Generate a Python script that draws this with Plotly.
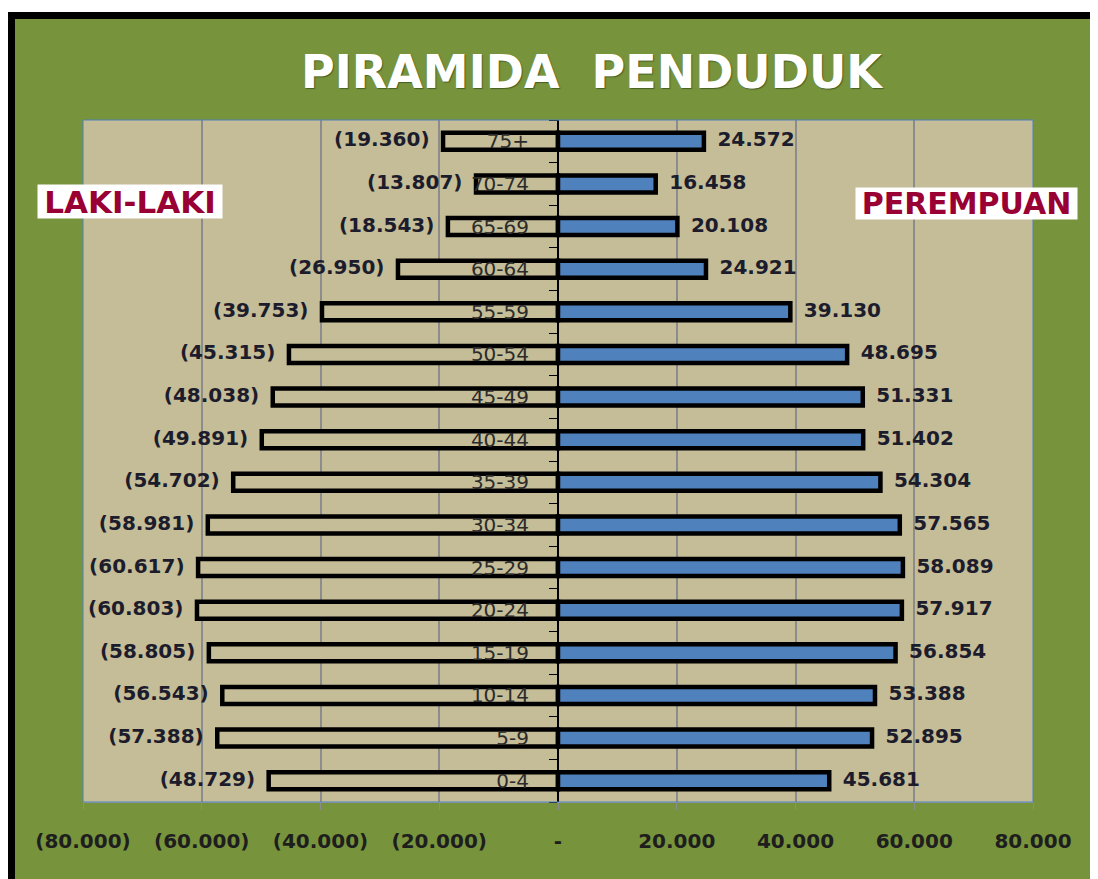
import plotly.graph_objects as go

# Data
kelompok_umur = ["0-4", "5-9", "10-14", "15-19", "20-24", "25-29", "30-34", "35-39",
                 "40-44", "45-49", "50-54", "55-59", "60-64", "65-69", "70-74", "75+"]
laki_laki = [48729, 57388, 56543, 58805, 60803, 60617, 58981, 54702,
             49891, 48038, 45315, 39753, 26950, 18543, 13807, 19360]
perempuan = [45681, 52895, 53388, 56854, 57917, 58089, 57565, 54304,
             51402, 51331, 48695, 39130, 24921, 20108, 16458, 24572]
tick_vals = [-80000, -60000, -40000, -20000, 0, 20000, 40000, 60000, 80000]
tick_text = ["(80.000)", "(60.000)", "(40.000)", "(20.000)", "-",
             "20.000", "40.000", "60.000", "80.000"]


def fmt(v):
    return f"{v:,}".replace(",", ".")


GREEN = "#77933C"
TAN = "#C4BD97"
BLUE = "#4F81BD"
MAROON = "#990033"
FONT = "DejaVu Sans"

# page has an 8px body margin, so the figure is a bit smaller than the window
W, H = 1090, 871
L, R, T, B = 75, 65, 112, 77
pw, ph = W - L - R, H - T - B


# helpers: screen coords of the reference -> paper coords
def px(X):
    return (X - 83) / pw


def py(Y):
    return (802 - Y) / ph


lbl_font = dict(family=FONT, size=20, color="#1c1c2c", weight="bold")

fig = go.Figure()

fig.add_trace(go.Bar(
    y=kelompok_umur, x=[-v for v in laki_laki], orientation="h",
    marker=dict(color=TAN, line=dict(color="black", width=4.5)),
    width=0.4, showlegend=False, hoverinfo="skip",
))
fig.add_trace(go.Bar(
    y=kelompok_umur, x=perempuan, orientation="h",
    marker=dict(color=BLUE, line=dict(color="black", width=4.5)),
    width=0.4, showlegend=False, hoverinfo="skip",
))
# value labels
fig.add_trace(go.Scatter(
    y=kelompok_umur, x=[-v for v in laki_laki], mode="markers+text",
    marker=dict(size=20, color="rgba(0,0,0,0)"),
    text=[f"({fmt(v)})" for v in laki_laki], textposition="middle left",
    textfont=lbl_font, cliponaxis=False, showlegend=False,
))
fig.add_trace(go.Scatter(
    y=kelompok_umur, x=perempuan, mode="markers+text",
    marker=dict(size=20, color="rgba(0,0,0,0)"),
    text=[fmt(v) for v in perempuan], textposition="middle right",
    textfont=lbl_font, cliponaxis=False, showlegend=False,
))

fig.update_layout(
    width=W, height=H,
    margin=dict(l=L, r=R, t=T, b=B),
    paper_bgcolor=GREEN, plot_bgcolor=TAN,
    barmode="overlay",
    xaxis=dict(
        range=[-80000, 80000], tickvals=tick_vals, ticktext=tick_text,
        showgrid=True, gridcolor="#8C8C8C", gridwidth=1.5, zeroline=False,
        showline=True, linecolor="#A0A0A0", linewidth=1,
        ticks="outside", ticklen=7, tickcolor="#8C8C8C",
        ticklabelstandoff=14,
        tickfont=dict(family=FONT, size=20, color="#1e1e1e", weight="bold"),
        fixedrange=True,
    ),
    yaxis=dict(
        type="category", categoryorder="array", categoryarray=kelompok_umur,
        range=[-0.5, len(kelompok_umur) - 0.5],
        anchor="free", position=0.5,
        showline=True, linecolor="black", linewidth=2,
        ticks="outside", tickson="boundaries", ticklen=8, tickcolor="black",
        ticklabelstandoff=24, showgrid=False,
        tickfont=dict(family=FONT, size=20, color="#2b2b2b"),
        fixedrange=True,
    ),
    shapes=[
        # plot border
        dict(type="rect", xref="paper", yref="paper", x0=0, x1=1, y0=0, y1=1,
             line=dict(color=BLUE, width=1), layer="above"),
        # outer frame (white margin + black border)
        dict(type="rect", xref="paper", yref="paper", x0=px(0), x1=px(1100),
             y0=py(12), y1=py(0), fillcolor="white", line_width=0),
        dict(type="rect", xref="paper", yref="paper", x0=px(1094), x1=px(1100),
             y0=py(880), y1=py(0), fillcolor="white", line_width=0),
        dict(type="rect", xref="paper", yref="paper", x0=px(8), x1=px(1094),
             y0=py(19), y1=py(12), fillcolor="black", line_width=0),
        dict(type="rect", xref="paper", yref="paper", x0=px(8), x1=px(15),
             y0=py(880), y1=py(12), fillcolor="black", line_width=0),
        dict(type="line", xref="paper", yref="paper", x0=px(1094), x1=px(1094),
             y0=py(880), y1=py(19), line=dict(color="#A8A8A8", width=2)),
    ],
    annotations=[
        dict(text="PIRAMIDA  PENDUDUK", xref="paper", yref="paper",
             x=px(592), y=py(72), xanchor="center", yanchor="middle",
             showarrow=False,
             font=dict(family=FONT, size=46, color="white", weight="bold",
                       shadow="1px 1px 1px rgba(40,60,20,0.6)")),
        dict(text="LAKI-LAKI", xref="paper", yref="paper",
             x=px(130), y=py(201), xanchor="center", yanchor="middle",
             showarrow=False,
             bgcolor="white", width=184, height=33, borderpad=0,
             font=dict(family=FONT, size=31, color=MAROON, weight="bold")),
        dict(text="PEREMPUAN", xref="paper", yref="paper",
             x=px(966), y=py(203), xanchor="center", yanchor="middle",
             showarrow=False,
             bgcolor="white", width=221, height=31, borderpad=0,
             font=dict(family=FONT, size=30, color=MAROON, weight="bold")),
    ],
)

fig.write_html("out.html")
